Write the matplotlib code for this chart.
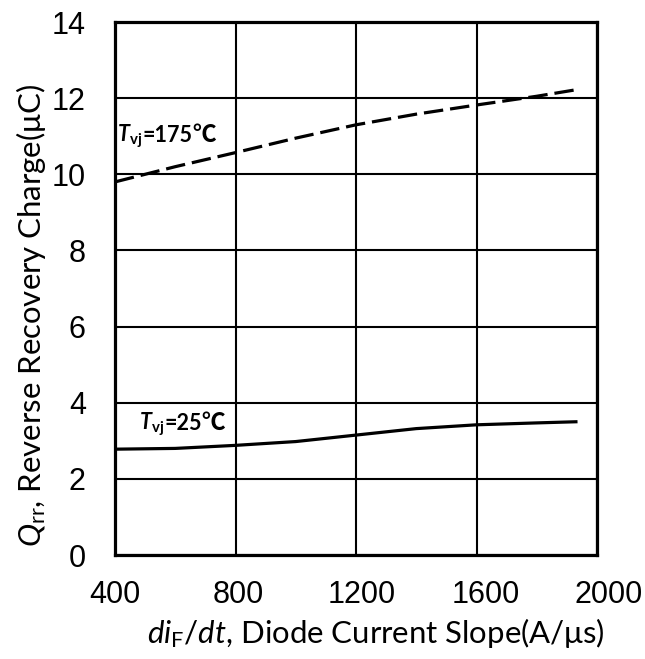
import matplotlib
matplotlib.use("Agg")
import matplotlib.pyplot as plt
from matplotlib.transforms import ScaledTranslation

# Data
di_dt = [400, 600, 800, 1000, 1200, 1400, 1600, 1800, 1930]
qrr_175 = [9.8, 10.2, 10.57, 10.95, 11.3, 11.58, 11.82, 12.05, 12.22]
qrr_25 = [2.78, 2.8, 2.88, 2.98, 3.15, 3.32, 3.42, 3.47, 3.5]

x_ticks = [400, 800, 1200, 1600, 2000]
y_ticks = [0, 2, 4, 6, 8, 10, 12, 14]

plt.rcParams["mathtext.fontset"] = "custom"
plt.rcParams["mathtext.rm"] = "Lato"
plt.rcParams["mathtext.it"] = "Lato:italic"
plt.rcParams["mathtext.bf"] = "Lato:bold"
plt.rcParams["mathtext.bfit"] = "Lato:italic:bold"
plt.rcParams["lines.scale_dashes"] = False

fig = plt.figure(figsize=(6.45, 6.59), dpi=100)
ax = fig.add_axes([0.1783, 0.1578, 0.7473, 0.8088])

ax.plot(di_dt, qrr_175, color="black", lw=2.3, linestyle=(0, (14, 5)),
        dash_capstyle="butt")
ax.plot(di_dt, qrr_25, color="black", lw=2.3)

ax.set_xlim(400, 2000)
ax.set_ylim(0, 14)
ax.set_xticks(x_ticks)
ax.set_yticks(y_ticks)
ax.grid(True, color="black", lw=1.5)
ax.set_axisbelow(True)
ax.tick_params(length=0, labelsize=22)
ax.tick_params(axis="x", pad=18)
ax.tick_params(axis="y", pad=21)
for lab in ax.get_yticklabels():
    lab.set_fontfamily("Liberation Sans")
# x tick labels in the original drift slightly right
for i, lab in enumerate(ax.get_xticklabels()):
    lab.set_fontfamily("Liberation Sans")
    lab.set_transform(lab.get_transform() + ScaledTranslation(i * 3 / 100, 0, fig.dpi_scale_trans))
for sp in ax.spines.values():
    sp.set_linewidth(2.3)

# axis titles, placed in figure coordinates
fig.text(376 / 645, 1 - 633 / 659, r"$di_{\mathrm{F}}/dt$, Diode Current Slope(A/μs)",
         fontsize=22.4, fontfamily="Lato", ha="center", va="center")
fig.text(31 / 645, 1 - 316 / 659, r"$Q_{\mathrm{rr}}$, Reverse Recovery Charge(μC)",
         fontsize=22.4, fontfamily="Lato", ha="center", va="center", rotation=90)

renderer = fig.canvas.get_renderer()


def chain_text(x, y, pieces):
    # draws pieces one after another on the same baseline
    for s, kw in pieces:
        t = ax.text(x, y, s, va="baseline", **kw)
        bb = t.get_window_extent(renderer=renderer)
        x = ax.transData.inverted().transform((bb.x1, 0))[0]


T_VJ = r"$\mathbfit{T}_{\mathbf{vj}}$"
bold = dict(fontsize=15.5, fontweight="bold", family="Lato")
cjk = dict(fontsize=17, fontweight="bold", family="Noto Sans CJK SC")

chain_text(408, 10.85, [(T_VJ, dict(fontsize=15.5)), ("=175", bold), ("℃", cjk)])
chain_text(480, 3.28, [(T_VJ, dict(fontsize=15.5)), ("=25", bold), ("℃", cjk)])

fig.set_facecolor("white")
fig.savefig("out.png", dpi=100)
